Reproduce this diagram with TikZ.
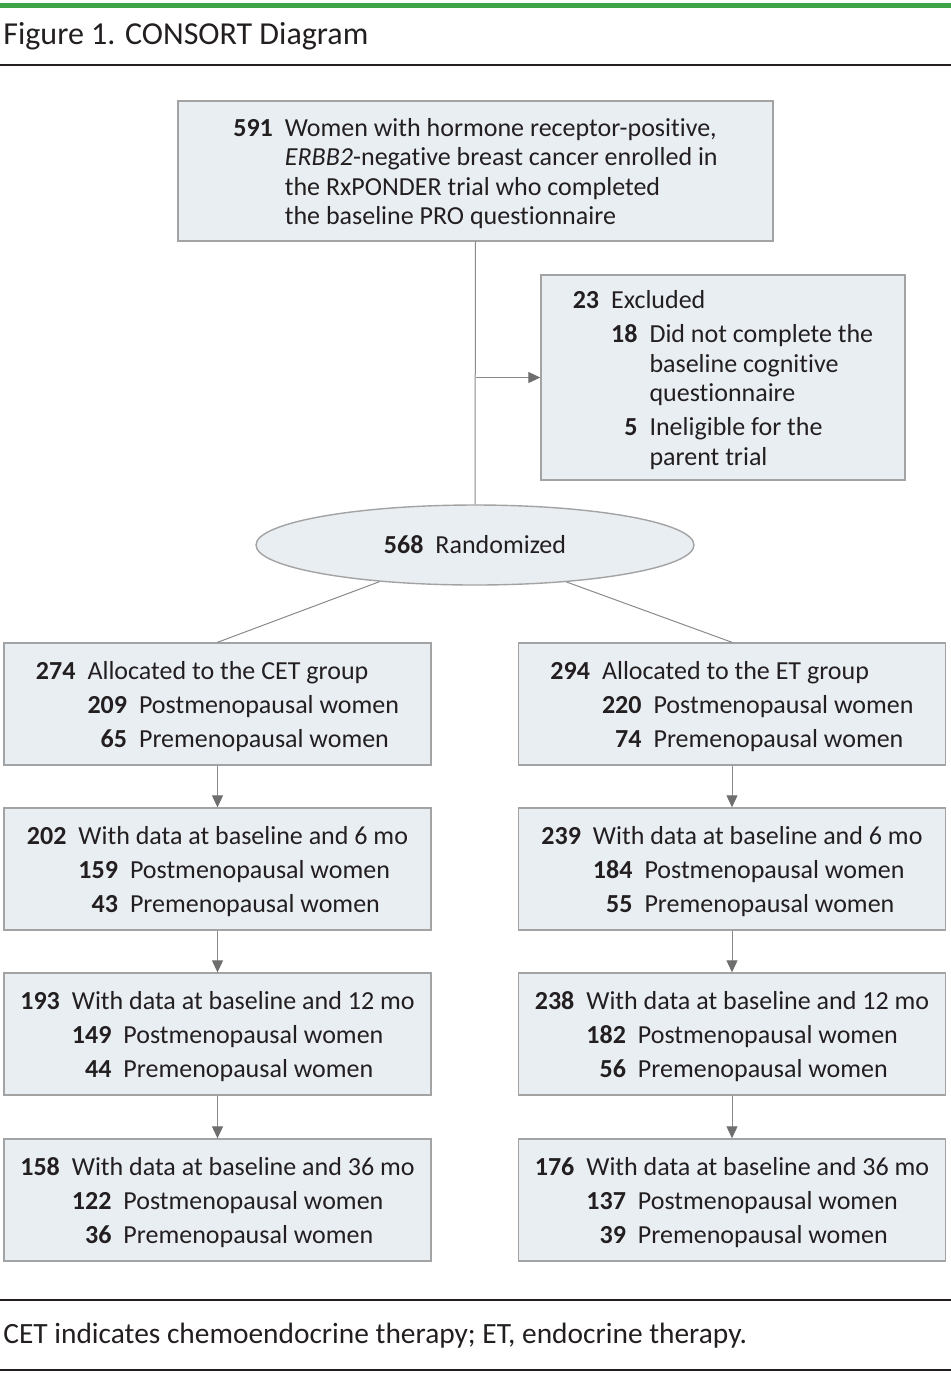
\documentclass[tikz,border=0pt]{standalone}
\usepackage{fontspec}
\setmainfont{Carlito}[Ligatures={NoCommon,NoContextual}]
\usepackage{array}
\usetikzlibrary{shapes.geometric,arrows.meta,positioning}

\definecolor{boxfill}{HTML}{E9EEF3}
\definecolor{boxline}{HTML}{A3A3A3}
\definecolor{linkgray}{HTML}{8A8A8A}
\definecolor{headgray}{HTML}{6E6E6E}
\definecolor{jamagreen}{HTML}{3DA548}
\definecolor{inktext}{HTML}{231F20}

\newcommand{\cnt}[1]{\textbf{#1}}
\newcommand{\topgap}{\rule{0pt}{13.8pt}}

\tikzset{
  flowbox/.style={draw=boxline, fill=boxfill, line width=0.7pt, inner sep=0pt,
    text=inktext, font=\fontsize{13}{14.75}\selectfont},
  armbox/.style={flowbox, minimum width=213.5pt, minimum height=61pt},
  link/.style={draw=linkgray, line width=0.5pt},
  arr/.style={link, -{Triangle[length=6pt,width=5.5pt,color=headgray]}},
  rulebar/.style={draw=inktext, line width=1pt}
}

\begin{document}
\begin{tikzpicture}[x=0.5pt, y=-0.5pt]
  \useasboundingbox (0, 0) rectangle (951, 1373);

  % heading
  \fill[jamagreen] (0, 3) rectangle (951, 8);
  \node (title) at (3, 36) [anchor=west, inner sep=0pt, text=inktext,
    font=\fontsize{16}{19}\selectfont] {Figure 1. CONSORT Diagram};
  \draw[rulebar] (0, 65) -- (951, 65);

  % enrolment
  \node (enrol) at (475.5, 171) [flowbox, minimum width=297.5pt, minimum height=70pt] {%
    \begin{tabular}{@{}r@{\hspace{6pt}}l@{}}
      \topgap\cnt{591} & Women with hormone receptor-positive,\\
      & \textit{ERBB2}-negative breast cancer enrolled in\\
      & the RxPONDER trial who completed\\
      & the baseline PRO questionnaire
    \end{tabular}};
  \node (excl) at (723, 377.5) [flowbox, minimum width=182pt, minimum height=102.5pt] {%
    \begin{tabular}{@{}r@{\hspace{6pt}}r@{\hspace{6pt}}l@{}}
      \topgap\cnt{23} & \multicolumn{2}{@{}l@{}}{Excluded}\\[2.25pt]
      & \cnt{18} & Did not complete the\\
      & & baseline cognitive\\
      & & questionnaire\\[2.25pt]
      & \cnt{5} & Ineligible for the\\
      & & parent trial
    \end{tabular}};
  \node (rand) at (475, 545) [flowbox, ellipse, minimum width=219pt, minimum height=40pt] {%
    \cnt{568}\hspace{6pt}Randomized};

  % CET arm
  \node (cet0) at (217.5, 704) [armbox] {%
    \begin{tabular}{@{}r@{\hspace{6pt}}r@{\hspace{6pt}}l@{}}
      \topgap\cnt{274} & \multicolumn{2}{@{}l@{}}{Allocated to the CET group}\\[2.25pt]
      & \cnt{209} & Postmenopausal women\\[2.25pt]
      & \cnt{65} & Premenopausal women
    \end{tabular}};
  \node (cet6) at (217.5, 869) [armbox] {%
    \begin{tabular}{@{}r@{\hspace{6pt}}r@{\hspace{6pt}}l@{}}
      \topgap\cnt{202} & \multicolumn{2}{@{}l@{}}{With data at baseline and 6 mo}\\[2.25pt]
      & \cnt{159} & Postmenopausal women\\[2.25pt]
      & \cnt{43} & Premenopausal women
    \end{tabular}};
  \node (cet12) at (217.5, 1034) [armbox] {%
    \begin{tabular}{@{}r@{\hspace{6pt}}r@{\hspace{6pt}}l@{}}
      \topgap\cnt{193} & \multicolumn{2}{@{}l@{}}{With data at baseline and 12 mo}\\[2.25pt]
      & \cnt{149} & Postmenopausal women\\[2.25pt]
      & \cnt{44} & Premenopausal women
    \end{tabular}};
  \node (cet36) at (217.5, 1200) [armbox] {%
    \begin{tabular}{@{}r@{\hspace{6pt}}r@{\hspace{6pt}}l@{}}
      \topgap\cnt{158} & \multicolumn{2}{@{}l@{}}{With data at baseline and 36 mo}\\[2.25pt]
      & \cnt{122} & Postmenopausal women\\[2.25pt]
      & \cnt{36} & Premenopausal women
    \end{tabular}};

  % ET arm
  \node (et0) at (732, 704) [armbox] {%
    \begin{tabular}{@{}r@{\hspace{6pt}}r@{\hspace{6pt}}l@{}}
      \topgap\cnt{294} & \multicolumn{2}{@{}l@{}}{Allocated to the ET group}\\[2.25pt]
      & \cnt{220} & Postmenopausal women\\[2.25pt]
      & \cnt{74} & Premenopausal women
    \end{tabular}};
  \node (et6) at (732, 869) [armbox] {%
    \begin{tabular}{@{}r@{\hspace{6pt}}r@{\hspace{6pt}}l@{}}
      \topgap\cnt{239} & \multicolumn{2}{@{}l@{}}{With data at baseline and 6 mo}\\[2.25pt]
      & \cnt{184} & Postmenopausal women\\[2.25pt]
      & \cnt{55} & Premenopausal women
    \end{tabular}};
  \node (et12) at (732, 1034) [armbox] {%
    \begin{tabular}{@{}r@{\hspace{6pt}}r@{\hspace{6pt}}l@{}}
      \topgap\cnt{238} & \multicolumn{2}{@{}l@{}}{With data at baseline and 12 mo}\\[2.25pt]
      & \cnt{182} & Postmenopausal women\\[2.25pt]
      & \cnt{56} & Premenopausal women
    \end{tabular}};
  \node (et36) at (732, 1200) [armbox] {%
    \begin{tabular}{@{}r@{\hspace{6pt}}r@{\hspace{6pt}}l@{}}
      \topgap\cnt{176} & \multicolumn{2}{@{}l@{}}{With data at baseline and 36 mo}\\[2.25pt]
      & \cnt{137} & Postmenopausal women\\[2.25pt]
      & \cnt{39} & Premenopausal women
    \end{tabular}};

  % connectors
  \coordinate (split) at (enrol.south |- excl.west);
  \draw[link] (enrol.south) -- (rand.north);
  \draw[arr] (split) -- (excl.west);
  \draw[link] (rand.201) -- (cet0.north);
  \draw[link] (rand.338) -- (et0.north);
  \draw[arr] (cet0) -- (cet6);
  \draw[arr] (cet6) -- (cet12);
  \draw[arr] (cet12) -- (cet36);
  \draw[arr] (et0) -- (et6);
  \draw[arr] (et6) -- (et12);
  \draw[arr] (et12) -- (et36);

  % footnote
  \draw[rulebar] (0, 1300) -- (951, 1300);
  \node (note) at (3, 1336) [anchor=west, inner sep=0pt, text=inktext,
    font=\fontsize{14.7}{17}\selectfont] {CET indicates chemoendocrine therapy; ET, endocrine therapy.};
  \draw[rulebar] (0, 1370) -- (951, 1370);
\end{tikzpicture}
\end{document}
